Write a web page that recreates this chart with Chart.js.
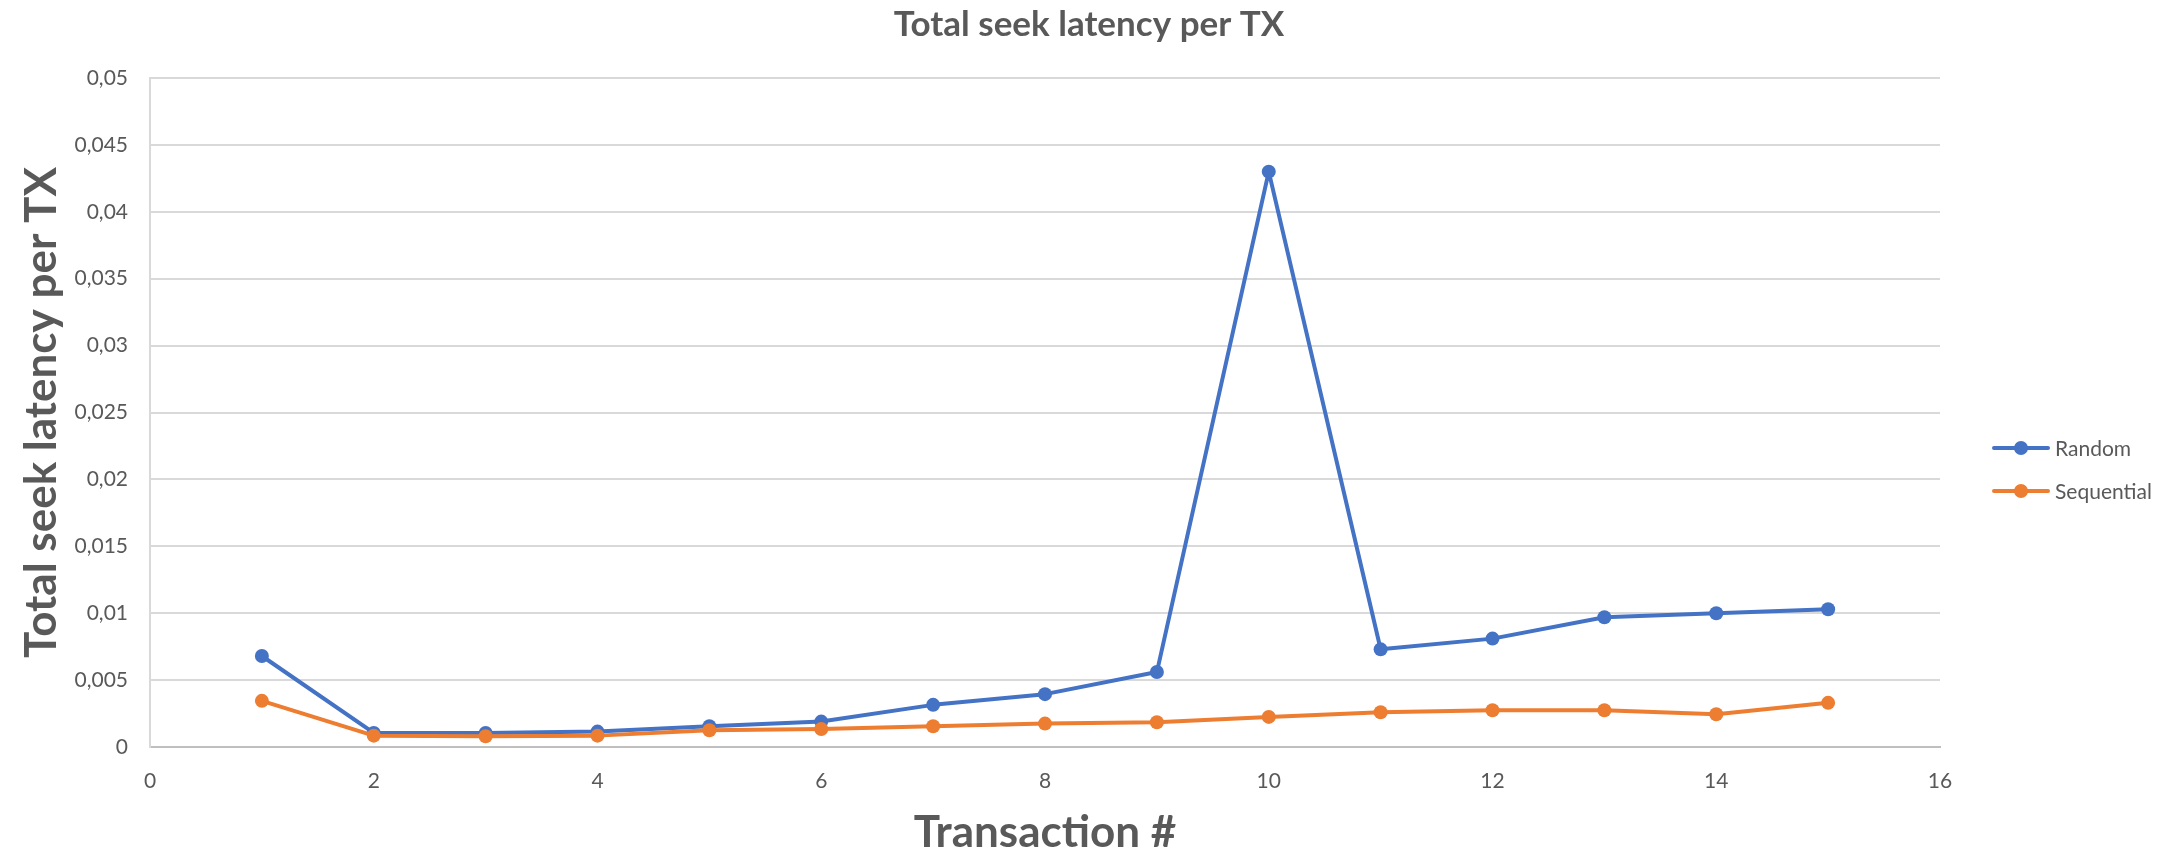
<!DOCTYPE html>
<html>
<head>
<meta charset="utf-8">
<title>Total seek latency per TX</title>
<script src="https://cdn.jsdelivr.net/npm/chart.js@4.4.1/dist/chart.umd.min.js"></script>
<style>
  html, body { margin: 0; padding: 0; background: #ffffff; }
  #wrap { width: 2178px; height: 856px; }
</style>
</head>
<body>
<div id="wrap"><canvas id="chart" width="2178" height="856"></canvas></div>
<script>
// Transaction numbers and per-transaction seek latency for both access patterns
const transactions = [1, 2, 3, 4, 5, 6, 7, 8, 9, 10, 11, 12, 13, 14, 15];
const randomLatency = [0.0068, 0.00105, 0.00105, 0.00115, 0.00155, 0.0019, 0.00315, 0.00395, 0.0056, 0.0430, 0.0073, 0.0081, 0.0097, 0.0100, 0.0103];
const sequentialLatency = [0.00345, 0.00085, 0.0008, 0.00085, 0.00125, 0.00135, 0.00155, 0.00175, 0.00185, 0.00225, 0.0026, 0.00275, 0.00275, 0.00245, 0.0033];

const seriesNames = ['Random', 'Sequential'];
const xTickLabels = ['0', '2', '4', '6', '8', '10', '12', '14', '16'];
const yTickLabels = ['0', '0,005', '0,01', '0,015', '0,02', '0,025', '0,03', '0,035', '0,04', '0,045', '0,05'];

const TEXT = '#595959';
const BLUE = '#4472C4';
const ORANGE = '#ED7D31';
const FONT = 'Lato';

function points(values) {
  return transactions.map((t, i) => ({ x: t, y: values[i] }));
}

// Legend at the right: short line with a marker, then the series name
const sideLegend = {
  id: 'sideLegend',
  afterDraw(chart) {
    const { ctx, chartArea } = chart;
    const x0 = chartArea.right + 54;
    const lineLen = 54;
    const firstY = 448;
    const rowGap = 43;
    ctx.save();
    chart.data.datasets.forEach((ds, i) => {
      const y = firstY + i * rowGap;
      ctx.strokeStyle = ds.borderColor;
      ctx.lineWidth = ds.borderWidth;
      ctx.lineCap = 'round';
      ctx.beginPath();
      ctx.moveTo(x0, y);
      ctx.lineTo(x0 + lineLen, y);
      ctx.stroke();
      ctx.fillStyle = ds.pointBackgroundColor;
      ctx.beginPath();
      ctx.arc(x0 + lineLen / 2, y, ds.pointRadius, 0, Math.PI * 2);
      ctx.fill();
      ctx.fillStyle = TEXT;
      ctx.font = '21px ' + FONT;
      ctx.textBaseline = 'middle';
      ctx.textAlign = 'left';
      ctx.fillText(ds.label, x0 + lineLen + 7, y + 1);
    });
    ctx.restore();
  }
};

function build() {
  new Chart(document.getElementById('chart'), {
    type: 'line',
    data: {
      datasets: [
        {
          label: seriesNames[0],
          data: points(randomLatency),
          borderColor: BLUE,
          backgroundColor: BLUE,
          pointBackgroundColor: BLUE,
          pointBorderWidth: 0,
          pointRadius: 7,
          borderWidth: 4,
          borderJoinStyle: 'round',
          tension: 0,
          order: 1
        },
        {
          label: seriesNames[1],
          data: points(sequentialLatency),
          borderColor: ORANGE,
          backgroundColor: ORANGE,
          pointBackgroundColor: ORANGE,
          pointBorderWidth: 0,
          pointRadius: 7,
          borderWidth: 4,
          borderJoinStyle: 'round',
          tension: 0,
          order: 0
        }
      ]
    },
    options: {
      responsive: false,
      devicePixelRatio: 1,
      animation: false,
      layout: { padding: 0 },
      plugins: {
        legend: { display: false },
        tooltip: { enabled: false },
        title: {
          display: true,
          text: 'Total seek latency per TX',
          color: TEXT,
          font: { family: FONT, size: 35, weight: 'bold' },
          padding: { top: 4, bottom: 32 }
        }
      },
      scales: {
        x: {
          type: 'linear',
          min: 0,
          max: 16,
          afterFit(scale) { scale.height = 109; },
          ticks: {
            stepSize: 2,
            color: TEXT,
            padding: 22,
            font: { family: FONT, size: 21 },
            callback: (v, i) => xTickLabels[i]
          },
          grid: { display: false, drawTicks: false },
          border: { display: true, color: '#bfbfbf', width: 2 },
          title: {
            display: true,
            text: 'Transaction #',
            color: TEXT,
            font: { family: FONT, size: 44, weight: 'bold', lineHeight: 1 },
            padding: { top: 0, bottom: 1 }
          }
        },
        y: {
          type: 'linear',
          min: 0,
          max: 0.05,
          afterFit(scale) { scale.width = 150; },
          ticks: {
            stepSize: 0.005,
            color: TEXT,
            padding: 22,
            font: { family: FONT, size: 21 },
            callback: (v, i) => yTickLabels[i]
          },
          grid: { color: '#d9d9d9', lineWidth: 2, drawTicks: false },
          border: { display: true, color: '#d9d9d9', width: 2 },
          title: {
            display: true,
            text: 'Total seek latency per TX',
            color: TEXT,
            font: { family: FONT, size: 44, weight: 'bold', lineHeight: 1 },
            padding: { top: 20, bottom: 0 }
          }
        },
        // empty band on the right that holds the legend
        legendBand: {
          type: 'linear',
          position: 'right',
          afterFit(scale) { scale.width = 238; },
          ticks: { display: false },
          grid: { display: false, drawTicks: false },
          border: { display: false },
          title: { display: false }
        }
      }
    },
    plugins: [sideLegend]
  });
}

Promise.all([
  document.fonts.load('bold 44px Lato'),
  document.fonts.load('21px Lato')
]).then(build, build);
</script>
</body>
</html>
